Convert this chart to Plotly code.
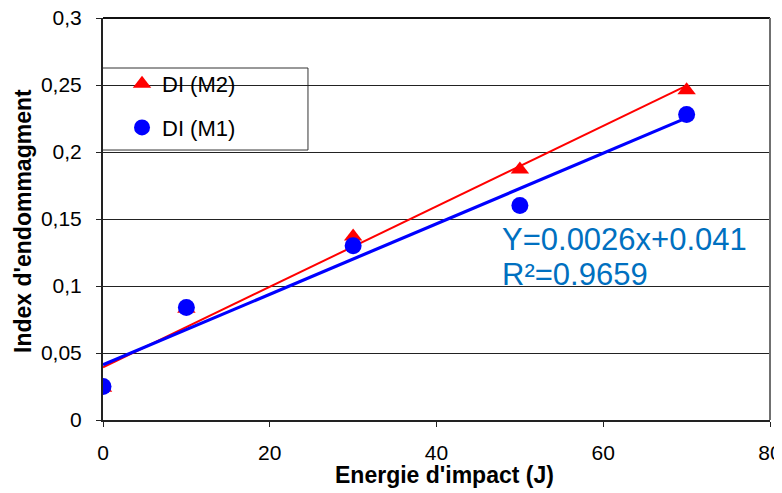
import numpy as np
import plotly.graph_objects as go

energie = [0, 10, 30, 50, 70]
di_m2 = [0.024, 0.083, 0.137, 0.187, 0.246]
di_m1 = [0.025, 0.084, 0.130, 0.160, 0.228]
x_ticks = [0, 20, 40, 60, 80]
y_ticks = [0, 0.05, 0.1, 0.15, 0.2, 0.25, 0.3]
eq_line1 = "Y=0.0026x+0.041"
eq_line2 = "R²=0.9659"
x_title = "Energie d'impact (J)"
y_title = "Index d'endommagment"

FONT = "Liberation Sans, Arial, sans-serif"

xs = np.array(energie, dtype=float)
p2 = np.polyfit(xs, di_m2, 1)
p1 = np.polyfit(xs, di_m1, 1)
xl = [xs.min(), xs.max()]

fig = go.Figure()
fig.add_trace(go.Scatter(x=xl, y=np.polyval(p2, xl), mode="lines",
                         line=dict(color="#ff0000", width=2), showlegend=False, hoverinfo="skip"))
fig.add_trace(go.Scatter(x=xl, y=np.polyval(p1, xl), mode="lines",
                         line=dict(color="#0000ff", width=3.2), showlegend=False, hoverinfo="skip"))
fig.add_trace(go.Scatter(x=energie, y=di_m2, mode="markers", name="DI (M2)", legendgroup="a",
                         marker=dict(symbol="triangle-up", size=16, color="#ff0000")))
fig.add_trace(go.Scatter(x=energie, y=di_m1, mode="markers", name="DI (M1)", legendgroup="b",
                         marker=dict(symbol="circle", size=17, color="#0000ff")))

# legend box
fig.add_shape(type="rect", xref="paper", yref="paper", x0=-0.0015, x1=0.3073, y0=0.6716, y1=0.8756,
              line=dict(color="#333333", width=1), fillcolor="white", layer="between")

fig.add_annotation(x=0.5952, y=0.4478, xref="paper", yref="paper", xanchor="left", yanchor="middle",
                   text=eq_line1, showarrow=False, font=dict(family=FONT, size=31, color="#0070c0"))
fig.add_annotation(x=0.5952, y=0.3607, xref="paper", yref="paper", xanchor="left", yanchor="middle",
                   text=eq_line2, showarrow=False, font=dict(family=FONT, size=31, color="#0070c0"))

fig.add_annotation(x=0.5127, y=-0.136, xref="paper", yref="paper", xanchor="center", yanchor="middle",
                   text="<b>" + x_title + "</b>", showarrow=False, font=dict(family=FONT, size=23, color="black"))
fig.add_annotation(x=-0.12, y=0.495, xref="paper", yref="paper", xanchor="center", yanchor="middle",
                   text="<b>" + y_title + "</b>", showarrow=False, textangle=-90,
                   font=dict(family=FONT, size=23, color="black"))

# top and right borders
fig.add_shape(type="line", xref="paper", yref="paper", x0=0, x1=1, y0=1, y1=1,
              line=dict(color="#111111", width=2))
fig.add_shape(type="line", xref="paper", yref="paper", x0=1, x1=1, y0=0, y1=1,
              line=dict(color="#707070", width=2))

fig.update_layout(
    width=782, height=493,
    margin=dict(l=95, r=20, t=10, b=81),
    paper_bgcolor="white", plot_bgcolor="white",
    separators=", ",
    font=dict(family=FONT, size=21, color="black"),
    showlegend=True,
    legend=dict(x=0.0285, y=0.888, xanchor="left", yanchor="top",
                bgcolor="rgba(0,0,0,0)", borderwidth=0,
                font=dict(family=FONT, size=22, color="black"),
                itemsizing="trace", tracegroupgap=12, traceorder="grouped"),
    xaxis=dict(range=[0, 80], tickvals=x_ticks, showgrid=False, zeroline=False, automargin=False,
               showline=True, linecolor="#222222", linewidth=2, ticklabeloverflow="allow",
               ticks="outside", ticklen=5, tickcolor="#222222", ticklabelstandoff=8),
    yaxis=dict(range=[0, 0.3], tickvals=y_ticks, showgrid=True, gridcolor="#222222", gridwidth=1,
               zeroline=False, showline=True, linecolor="#222222", linewidth=2, automargin=False,
               ticklabeloverflow="allow",
               ticks="outside", ticklen=5, tickcolor="#222222", ticklabelstandoff=10),
)

fig.write_html("out.html")
